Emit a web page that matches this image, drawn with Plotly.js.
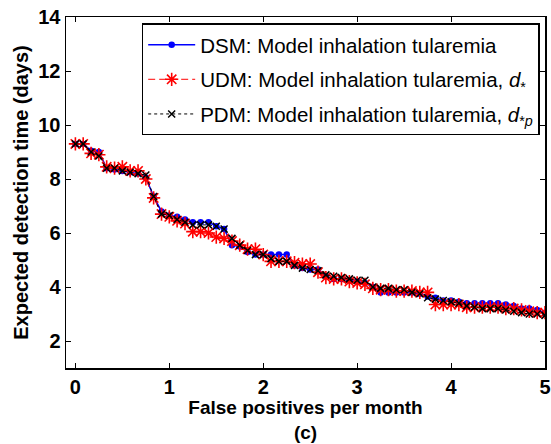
<!DOCTYPE html>
<html>
<head>
<meta charset="utf-8">
<script src="https://cdn.plot.ly/plotly-3.0.1.min.js"></script>
<style>html,body{margin:0;padding:0;background:#fff;}#chart{width:551px;height:444px;}</style>
</head>
<body>
<div id="chart"></div>
<script>
// False positives per month (x positions of the points)
const falsePositives = [0,0.083,0.167,0.25,0.333,0.417,0.5,0.583,0.667,0.75,0.833,0.917,
  1,1.083,1.167,1.25,1.333,1.417,1.5,1.583,1.667,1.75,1.833,1.917,
  2,2.083,2.167,2.25,2.333,2.417,2.5,2.583,2.667,2.75,2.833,2.917,
  3,3.083,3.167,3.25,3.333,3.417,3.5,3.583,3.667,3.75,3.833,3.917,
  4,4.083,4.167,4.25,4.333,4.417,4.5,4.583,4.667,4.75,4.833,4.917,5];

// Expected detection time (days)
const dsm = [9.3,9.3,9.05,9.0,8.4,8.35,8.3,8.25,8.2,8.05,
  7.35,6.8,6.65,6.6,6.5,6.4,6.4,6.4,6.25,6.15,
  5.55,5.5,5.3,5.2,5.2,5.2,5.2,5.2,4.8,4.7,
  4.65,4.65,4.4,4.3,4.3,4.25,4.2,4.15,4.0,3.8,
  3.8,3.8,3.8,3.8,3.75,3.65,3.6,3.5,3.5,3.45,
  3.4,3.4,3.4,3.4,3.4,3.35,3.3,3.2,3.2,3.15,3.05];
const udm = [9.3,9.3,8.95,8.9,8.45,8.4,8.45,8.3,8.3,8.0,
  7.3,6.7,6.6,6.45,6.35,6.05,6.05,6.0,5.85,5.8,
  5.7,5.55,5.4,5.4,5.2,4.95,4.95,4.95,4.9,4.85,
  4.85,4.55,4.35,4.3,4.3,4.2,4.15,4.1,3.95,3.9,
  3.9,3.85,3.85,3.85,3.8,3.8,3.35,3.35,3.35,3.35,
  3.25,3.25,3.25,3.25,3.25,3.2,3.2,3.15,3.1,3.05,3.05];
const pdm = [9.3,9.3,9.0,8.85,8.4,8.4,8.3,8.25,8.2,8.15,
  7.35,6.7,6.65,6.5,6.4,6.3,6.3,6.3,6.25,6.15,
  5.8,5.55,5.35,5.2,5.2,5.05,4.95,4.95,4.8,4.7,
  4.65,4.6,4.45,4.4,4.35,4.3,4.25,4.25,4.0,3.95,
  3.95,3.9,3.9,3.8,3.75,3.6,3.55,3.5,3.45,3.4,
  3.3,3.25,3.2,3.2,3.2,3.15,3.1,3.05,3.0,3.0,2.95];

const seriesNames = [
  'DSM: Model inhalation tularemia',
  'UDM: Model inhalation tularemia, <i>d</i><sub>*</sub>',
  'PDM: Model inhalation tularemia, <i>d</i><sub>*<i>p</i></sub>'
];
const xTicks = [0,1,2,3,4,5];
const yTicks = [2,4,6,8,10,12,14];

const FONT = 'Liberation Sans, Arial, sans-serif';

const traces = [
  {x: falsePositives, y: dsm, name: seriesNames[0], legendgroup: 'a', type: 'scatter', mode: 'lines+markers',
   line: {color: '#0000ff', width: 1.5},
   marker: {symbol: 'circle', size: 6.5, color: '#0000ff'}},
  {x: falsePositives, y: udm, name: seriesNames[1], legendgroup: 'b', type: 'scatter', mode: 'lines+markers',
   line: {color: '#ff0000', width: 1, dash: '7px,4px'},
   marker: {symbol: 'asterisk-open', size: 11, line: {color: '#ff0000', width: 1.6}}},
  {x: falsePositives, y: pdm, name: seriesNames[2], legendgroup: 'c', type: 'scatter', mode: 'lines+markers',
   line: {color: '#000000', width: 1, dash: '3px,3px'},
   marker: {symbol: 'x-thin-open', size: 7, line: {color: '#000000', width: 1.5}}}
];

const axisCommon = {
  showgrid: false, zeroline: false, showline: true, linecolor: '#000', linewidth: 1.5,
  mirror: 'ticks', ticks: 'inside', ticklen: 5, tickwidth: 1, tickcolor: '#000',
  tickfont: {family: FONT, size: 20, color: '#000', weight: 'bold'}
};

const layout = {
  width: 551, height: 444,
  margin: {l: 66, r: 6, t: 17, b: 76},
  paper_bgcolor: '#fff', plot_bgcolor: '#fff',
  showlegend: true,
  xaxis: Object.assign({}, axisCommon, {
    range: [-0.1, 5], tickvals: xTicks, ticktext: xTicks.map(String),
    title: {text: 'False positives per month<br>(c)', font: {family: FONT, size: 19, color: '#000', weight: 'bold'}, standoff: 2}
  }),
  yaxis: Object.assign({}, axisCommon, {
    range: [1, 14], tickvals: yTicks, ticktext: yTicks.map(String),
    title: {text: 'Expected detection time (days)', font: {family: FONT, size: 20, color: '#000', weight: 'bold'}, standoff: 4}
  }),
  legend: {
    x: 0.158, y: 0.982, xanchor: 'left', yanchor: 'top',
    bgcolor: '#fff', bordercolor: '#000', borderwidth: 1.5,
    font: {family: FONT, size: 20.5, color: '#000'},
    itemwidth: 47,
    tracegroupgap: 5
  }
};

Plotly.newPlot('chart', traces, layout, {displayModeBar: false, staticPlot: true});
</script>
</body>
</html>
